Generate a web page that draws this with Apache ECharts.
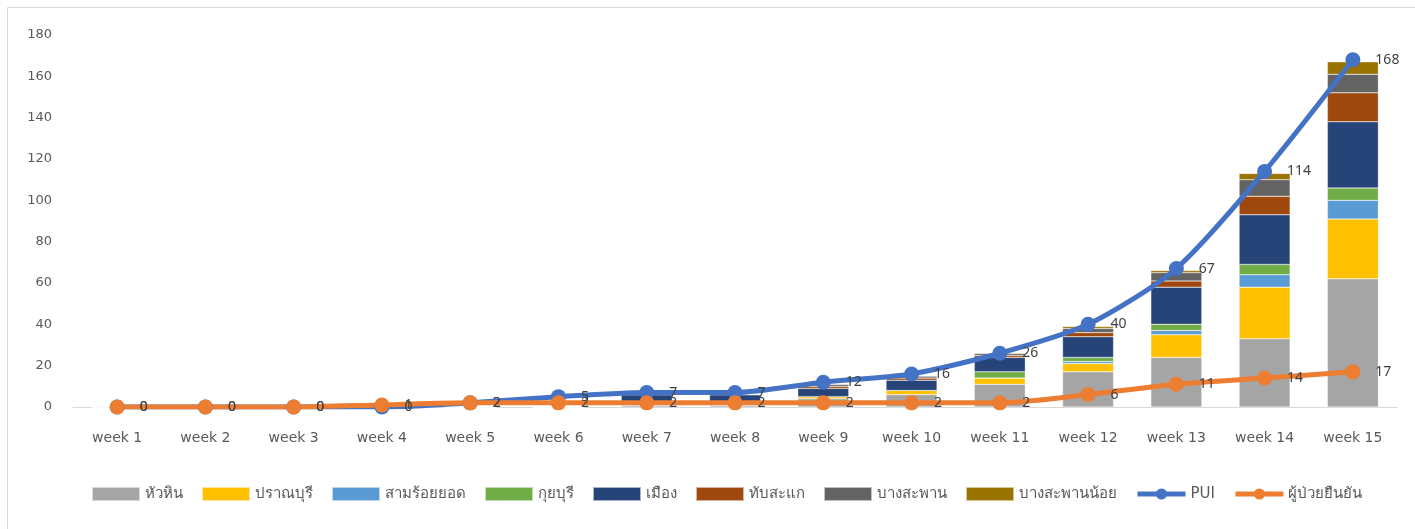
<!DOCTYPE html>
<html>
<head>
<meta charset="utf-8">
<script src="https://cdn.jsdelivr.net/npm/echarts@6/dist/echarts.min.js"></script>
<style>
html,body{margin:0;padding:0;background:#fff;}
#c{width:1415px;height:529px;}
</style>
</head>
<body>
<div id="c"></div>
<script>
var categories = ['week 1','week 2','week 3','week 4','week 5','week 6','week 7','week 8','week 9','week 10','week 11','week 12','week 13','week 14','week 15'];
var huaHin        = [0,0,0,0,0,0,1,1,4,6,11,17,24,33,62];
var pranburi      = [0,0,0,0,0,0,0,0,1,2,3,4,11,25,29];
var samRoiYot     = [0,0,0,0,0,0,0,0,0,0,0,1,2,6,9];
var kuiBuri       = [0,0,0,0,0,0,0,0,0,0,3,2,3,5,6];
var mueang        = [0,0,0,0,0,0,5,5,4,5,7,10,18,24,32];
var thapSakae     = [0,0,0,0,0,0,0,0,1,1,1,2,3,9,14];
var bangSaphan    = [0,0,0,0,0,0,0,0,1,1,1,2,4,8,9];
var bangSaphanNoi = [0,0,0,0,0,0,0,0,0,0,0,1,1,3,6];
var pui           = [0,0,0,0,2,5,7,7,12,16,26,40,67,114,168];
var confirmed     = [0,0,0,1,2,2,2,2,2,2,2,6,11,14,17];
var yTicks = {min:0, max:180, interval:20};

var FONT = "'DejaVu Sans','Noto Sans',sans-serif";
var LFONT = "'Noto Sans','DejaVu Sans',sans-serif";
var barDefs = [
  ['หัวหิน', huaHin, '#A5A5A5'],
  ['ปราณบุรี', pranburi, '#FFC000'],
  ['สามร้อยยอด', samRoiYot, '#5B9BD5'],
  ['กุยบุรี', kuiBuri, '#70AD47'],
  ['เมือง', mueang, '#264478'],
  ['ทับสะแก', thapSakae, '#9E480E'],
  ['บางสะพาน', bangSaphan, '#636363'],
  ['บางสะพานน้อย', bangSaphanNoi, '#997300']
];
var series = barDefs.map(function(d){
  return {
    name: d[0], type: 'bar', stack: 'total', data: d[1],
    barWidth: 51,
    itemStyle: {color: d[2], borderColor: 'rgba(255,255,255,0.6)', borderWidth: 0.5},
    emphasis: {disabled: true}
  };
});
function lineSeries(name, data, color){
  return {
    name: name, type: 'line', data: data, smooth: 0.25,
    symbol: 'circle', symbolSize: 15, z: 5,
    lineStyle: {color: color, width: 5},
    itemStyle: {color: color},
    label: {show: true, position: 'right', distance: 15, color: '#404040', fontSize: 14, fontFamily: LFONT},
    emphasis: {disabled: true}
  };
}
series.push(lineSeries('PUI', pui, '#4472C4'));
series.push(lineSeries('ผู้ป่วยยืนยัน', confirmed, '#ED7D31'));

var chart = echarts.init(document.getElementById('c'));
chart.setOption({
  animation: false,
  textStyle: {fontFamily: FONT},
  graphic: [{type: 'rect', shape: {x: 7.5, y: 7.5, width: 1420, height: 530}, style: {fill: 'none', stroke: '#d9d9d9', lineWidth: 1}, silent: true, z: -10}],
  grid: {left: 73, right: 18, top: 35, bottom: 122},
  legend: {
    top: 481, left: 86, itemGap: 18, itemWidth: 48, itemHeight: 14,
    textStyle: {color: '#595959', fontSize: 15, fontFamily: FONT},
    data: barDefs.map(function(d){return {name: d[0], icon: 'rect'};}).concat([
      {name: 'PUI', lineStyle: {width: 5}},
      {name: 'ผู้ป่วยยืนยัน', lineStyle: {width: 5}}
    ])
  },
  xAxis: {
    type: 'category', data: categories,
    axisLine: {lineStyle: {color: '#d9d9d9', width: 1}},
    axisTick: {show: false},
    axisLabel: {color: '#595959', fontSize: 14, margin: 24, fontFamily: FONT}
  },
  yAxis: {
    type: 'value', min: yTicks.min, max: yTicks.max, interval: yTicks.interval,
    axisLine: {show: false}, axisTick: {show: false},
    splitLine: {show: false},
    axisLabel: {color: '#595959', fontSize: 13, margin: 21, fontFamily: FONT}
  },
  series: series
});
</script>
</body>
</html>
